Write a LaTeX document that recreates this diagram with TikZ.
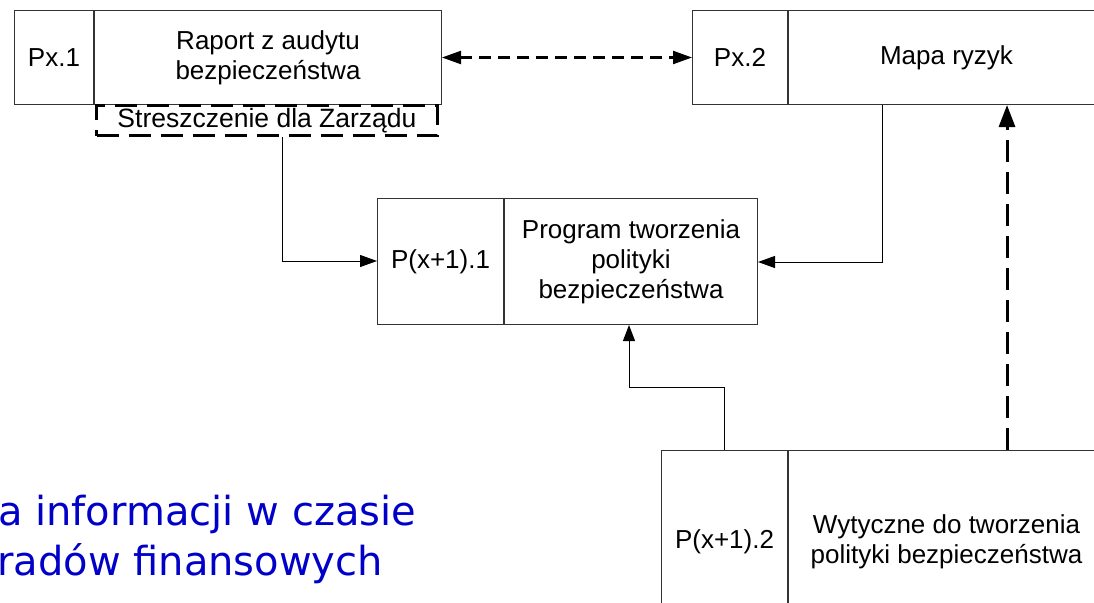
\documentclass[tikz,border=0pt]{standalone}
\usepackage{fontspec}
\setmainfont{Liberation Sans}
\newfontfamily\bluefont{DejaVu Sans}
\usetikzlibrary{arrows.meta}
\definecolor{titleblue}{RGB}{0,0,200}
\tikzset{
  boxpart/.style={draw=black!80, line width=1pt, rectangle, inner sep=0pt, anchor=north west, align=center, font=\fontsize{26}{30}\selectfont},
  thinconn/.style={draw=black, line width=1pt, -{Triangle[length=17pt,width=12pt]}},
  heavydash/.style={draw=black, line width=3pt, dash pattern=on 22pt off 10pt},
  lightdash/.style={draw=black, line width=2.2pt, dash pattern=on 12pt off 7pt},
  bluetext/.style={text=titleblue, anchor=base west, inner sep=0pt, font=\bluefont\fontsize{40}{50}\selectfont}
}
\begin{document}
\begin{tikzpicture}[x=1pt,y=-1pt]
\useasboundingbox (0,0) rectangle (1094,602);
\clip (0,0) rectangle (1094,602);
% box 1
\node[boxpart, minimum width=79pt, minimum height=94pt] (p1id) at (14,10) {Px.1};
\node[boxpart, minimum width=347pt, minimum height=94pt] (p1) at (p1id.north east) {Raport z audytu\\bezpiecze\'nstwa};
% summary (dashed)
\node[heavydash, rectangle, inner sep=0pt, anchor=north west, minimum width=341pt, minimum height=30pt, font=\fontsize{26.5}{30}\selectfont] (sum) at (95,104) {Streszczenie dla Zarz\k{a}du};
% box 2
\node[boxpart, minimum width=95pt, minimum height=94pt] (p2id) at (692,10) {Px.2};
\node[boxpart, minimum width=316pt, minimum height=94pt] (p2) at (p2id.north east) {Mapa ryzyk};
% box 3
\node[boxpart, minimum width=126pt, minimum height=126pt] (p3id) at (377,198) {P(x+1).1};
\node[boxpart, minimum width=253pt, minimum height=126pt] (p3) at (p3id.north east) {Program tworzenia\\polityki\\bezpiecze\'nstwa};
% box 4
\node[boxpart, minimum width=126pt, minimum height=182pt] (p4id) at (661,450) {P(x+1).2};
\node[boxpart, minimum width=316pt, minimum height=182pt] (p4) at (p4id.north east) {Wytyczne do tworzenia\\polityki bezpiecze\'nstwa};
% blue text
\node[bluetext] (t1) at (-2,525) {a informacji w czasie};
\node[bluetext] (t2) at (-3,575) {rad\'ow finansowych};
% connectors
\coordinate (c1) at (282,261);
\draw[thinconn] (sum.south -| c1) |- (p3id.west |- c1);
\coordinate (c2) at (882,262);
\draw[thinconn] (p2.south -| c2) |- (p3.east |- c2);
\coordinate (c3) at (724,387);
\coordinate (c4) at (629,387);
\draw[thinconn, -{Triangle[length=16pt,width=12pt]}] (p4id.north -| c3) -- (c3) -- (c4) -- (p3.south -| c4);
\coordinate (c5) at (1007,300);
\draw[heavydash, -{Triangle[length=22pt,width=16pt]}] (p4.north -| c5) -- (p2.south -| c5);
\draw[lightdash, {Triangle[length=19pt,width=13pt]}-{Triangle[length=19pt,width=13pt]}] (p1.east) -- (p2id.west);
\end{tikzpicture}
\end{document}
